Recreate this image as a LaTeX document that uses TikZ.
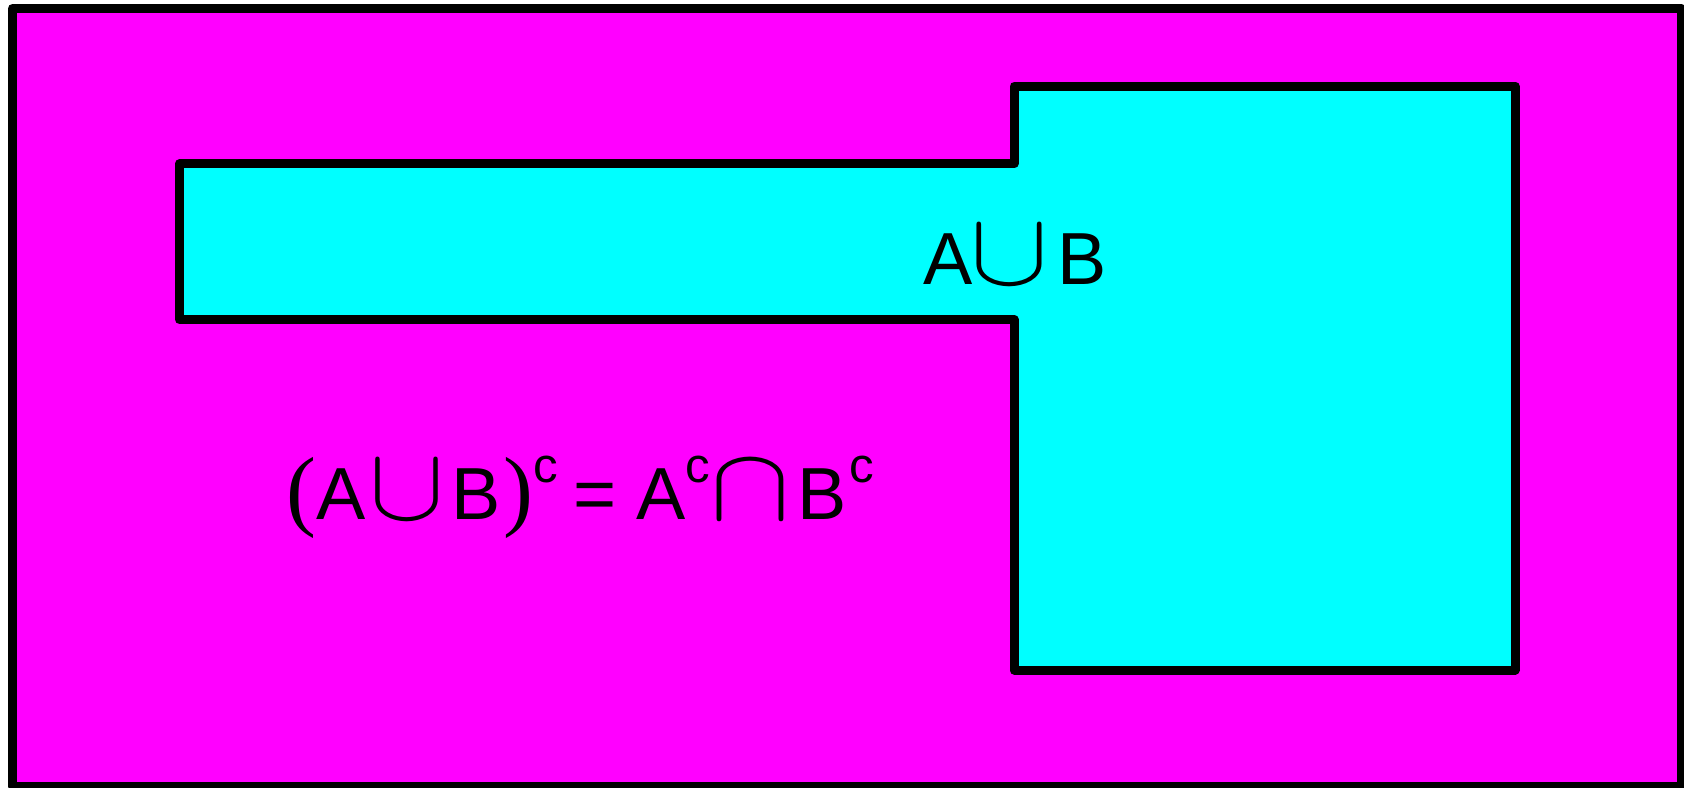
\documentclass[tikz,border=0pt]{standalone}
\usepackage{fontspec}
\setmainfont{Liberation Sans}
\newfontfamily\parenfont{Liberation Serif}
\usepackage{xcolor}
\definecolor{Universe}{HTML}{FF00FF}
\definecolor{Union}{HTML}{00FFFF}
% superscript c, set-union and set-intersection signs at the sizes of the picture
\newcommand\compl{\raisebox{0.37cm}{\fontsize{14}{16}\selectfont c}}
\newcommand\bigparen[1]{{\parenfont\fontsize{25.5}{30}\selectfont #1}}
\newcommand\unionsym[1]{\resizebox{#1}{0.58cm}{$\cup$}}
\newcommand\intersym{\resizebox{0.8cm}{0.58cm}{$\cap$}}
\usetikzlibrary{positioning}

\begin{document}
\begin{tikzpicture}[
  region/.style={draw=black, line width=0.09cm, line join=round},
  lbl/.style={anchor=base west, inner sep=0pt, font=\fontsize{21}{25}\selectfont}
]
\useasboundingbox (0,0) rectangle (16.84,7.87);
\clip (0,0) rectangle (16.84,7.87);

%% ---- universe (everything outside A and B) ----
\fill[white] (0,0) rectangle (16.84,7.87);
\draw[region, fill=Universe] (0.125,0.01) rectangle (16.812,7.785);

%% ---- A union B: the long arm and the big block ----
\draw[region, fill=Union] (1.795,6.232) -- (10.14,6.232) -- (10.14,7.01)
  -- (15.15,7.01) -- (15.15,1.17) -- (10.14,1.17) -- (10.14,4.675)
  -- (1.795,4.675) -- cycle;

%% ---- labels ----
\node[lbl] (union) at (9.23,5.03)
  {A\hspace{-0.027cm}\unionsym{0.78cm}\hspace{0.09cm}B};
\node[lbl] (demorgan) at (2.86,2.68)
  {\bigparen{(}A\hspace{0.037cm}\unionsym{0.75cm}\hspace{0.07cm}B\hspace{0.03cm}%
   \bigparen{)}\compl\hspace{0.15cm}=\hspace{0.205cm}A\compl\intersym
   \hspace{0.07cm}B\hspace{0.03cm}\compl};

\end{tikzpicture}
\end{document}
